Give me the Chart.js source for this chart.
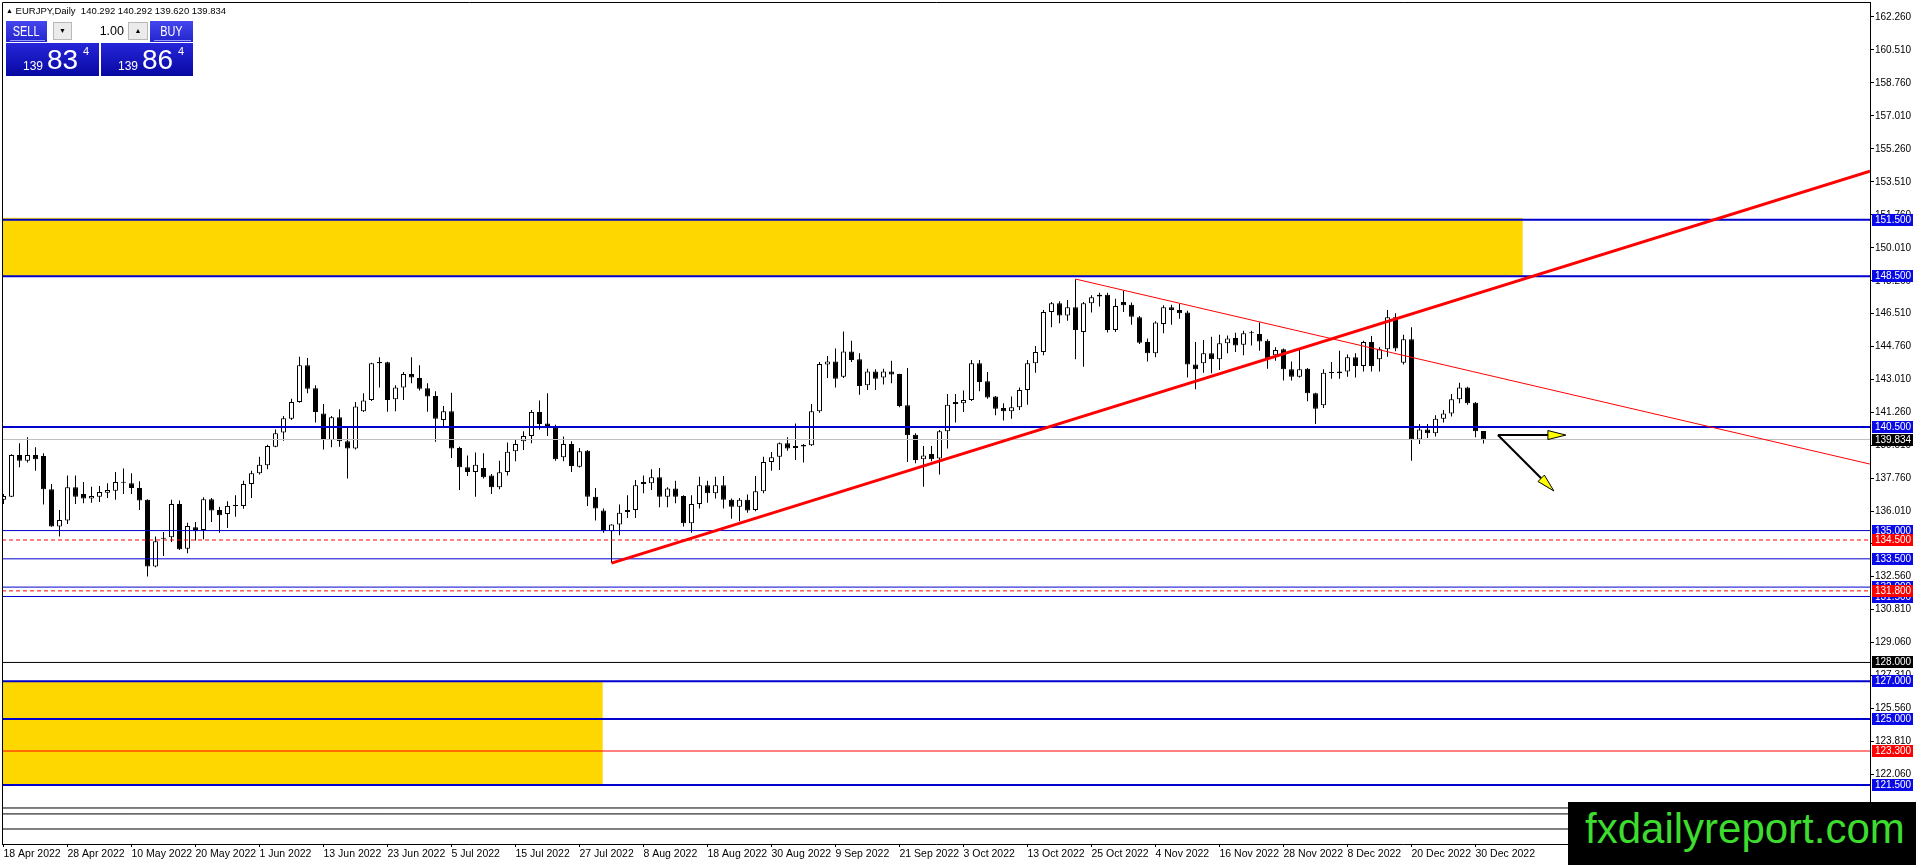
<!DOCTYPE html>
<html>
<head>
<meta charset="utf-8">
<title>EURJPY Daily</title>
<script src="https://cdn.jsdelivr.net/npm/chart.js"></script>
<style>
  html, body { margin: 0; padding: 0; background: #fff; overflow: hidden; }
  #wrap { position: relative; width: 1916px; height: 865px; font-family: 'Liberation Sans', Arial, sans-serif; }
  #chart { position: absolute; left: 0; top: 0; }
  #title { position: absolute; left: 6px; top: 5px; font-size: 9.5px; line-height: 12px; white-space: pre; color: #000; }
  #title b { font-size: 7px; font-weight: normal; vertical-align: 1px; }
  .lbl { position: absolute; top: 21px; height: 21px; color: #fff; font-size: 14px; line-height: 21px; text-align: center;
         background: linear-gradient(#4646ee, #2424cc); }
  .lbl span { display: inline-block; transform: scaleX(0.78); }
  .lbl i { position: absolute; left: 4px; right: 2px; bottom: 1px; height: 1px; background: #9a9aff; }
  #sell { left: 6px; width: 41px; }
  #buy { left: 150px; width: 43px; }
  #spin { position: absolute; left: 50px; top: 20px; width: 100px; height: 22px; background: #fff; }
  #dn, #up { position: absolute; top: 2px; height: 16px; background: #ebebeb; border: 1px solid #b8b8b8;
             font-size: 7px; line-height: 16px; text-align: center; color: #000; }
  #dn { left: 3px; width: 17px; }
  #up { left: 78px; width: 18px; }
  #lot { position: absolute; left: 22px; top: 2px; width: 52px; height: 18px; padding-right: 4px;
         font-size: 12.5px; line-height: 18px; text-align: right; color: #000; }
  .big { position: absolute; top: 43px; height: 33px; color: #fff; background: linear-gradient(#2626da, #0808a2); }
  #bigSell { left: 6px; width: 93px; }
  #bigBuy { left: 101px; width: 92px; }
  .big .s { position: absolute; left: 17px; top: 17px; font-size: 12px; line-height: 12px; }
  .big .b { position: absolute; left: 41px; top: 3px; font-size: 28px; line-height: 28px; }
  .big .p { position: absolute; left: 77px; top: 3px; font-size: 11px; line-height: 11px; }
  #wm { position: absolute; left: 1568px; top: 802px; width: 348px; height: 63px; background: #000; color: #3ddc2f;
        font-size: 42px; line-height: 42px; padding: 6px 0 0 17px; box-sizing: border-box; white-space: nowrap; }
</style>
</head>
<body>
<div id="wrap">
  <canvas id="chart" width="1916" height="865"></canvas>
  <div id="title"><b>▲</b> EURJPY,Daily  140.292 140.292 139.620 139.834</div>
  <div class="lbl" id="sell"><span>SELL</span><i></i></div>
  <div id="spin"><div id="dn">▼</div><div id="lot">1.00</div><div id="up">▲</div></div>
  <div class="lbl" id="buy"><span>BUY</span><i></i></div>
  <div class="big" id="bigSell"><span class="s">139</span><span class="b">83</span><span class="p">4</span></div>
  <div class="big" id="bigBuy"><span class="s">139</span><span class="b">86</span><span class="p">4</span></div>
  <div id="wm">fxdailyreport.com</div>
</div>
<script>
// daily bars, 18 Apr 2022 .. first bar of 2023
const opens = [
  136.63,136.80,139.01,138.71,139.01,138.96,137.19,135.21,135.53,137.30,
  136.94,136.70,136.80,137.01,137.12,137.58,137.51,137.26,136.63,133.09,
  134.57,134.64,136.41,134.04,135.17,135.03,136.66,136.09,135.88,136.31,
  136.31,137.47,138.04,138.47,139.45,140.20,140.94,141.83,143.77,142.55,
  141.22,139.81,141.01,139.74,139.35,141.33,141.93,143.95,143.93,141.97,
  142.60,143.31,143.10,142.55,142.14,140.87,141.33,139.38,138.36,138.11,
  138.32,137.93,137.30,138.11,139.21,139.74,140.02,141.30,140.69,140.48,
  138.89,139.60,138.39,139.24,136.80,136.06,134.96,135.32,135.99,136.09,
  137.47,137.51,137.83,136.80,137.23,136.84,135.39,136.41,137.40,136.98,
  137.40,136.63,136.27,136.63,136.09,137.09,138.64,138.92,139.63,139.38,
  139.46,139.53,141.33,143.81,143.98,143.17,144.51,144.09,142.71,143.45,
  143.13,143.45,143.31,141.65,140.09,138.78,139.07,138.82,140.27,141.72,
  141.76,141.93,143.88,142.92,142.11,141.51,141.33,141.54,142.46,143.88,
  144.48,146.60,147.06,146.42,146.85,145.54,147.06,147.42,147.52,145.65,
  147.13,146.99,146.32,145.01,144.41,145.97,146.85,146.71,146.57,143.81,
  143.88,144.41,144.09,144.94,145.22,144.87,145.49,145.43,145.08,144.30,
  144.62,143.56,143.17,143.59,142.29,141.65,143.38,143.35,143.45,144.20,
  143.74,145.01,144.09,144.62,146.32,143.91,145.15,139.84,140.37,140.16,
  140.94,141.22,141.97,142.60,141.79,140.292
];
const highs = [
  136.94,139.05,139.63,139.95,139.42,139.10,137.47,136.09,137.93,137.93,
  137.58,137.33,137.37,137.51,138.11,138.29,138.04,137.62,136.66,134.68,
  134.93,136.63,136.59,135.42,135.46,136.77,136.73,136.27,136.55,136.87,
  137.65,138.18,138.92,139.56,140.37,141.08,142.00,144.23,144.16,142.71,
  141.72,141.08,141.44,140.48,141.83,142.29,143.91,144.20,143.96,142.71,
  143.42,144.20,143.77,142.82,142.39,141.61,142.32,139.45,138.99,139.14,
  139.10,138.00,138.71,139.67,139.84,140.27,141.40,141.90,142.29,140.62,
  139.99,139.74,139.38,139.28,137.26,136.17,135.34,136.38,136.87,137.69,
  137.93,138.25,138.32,137.30,137.65,136.87,136.87,137.86,137.65,137.86,
  137.90,136.70,136.73,136.91,137.90,138.92,139.17,139.67,139.95,140.69,
  139.60,141.72,143.95,144.27,144.66,145.57,145.08,144.41,143.59,143.56,
  143.59,144.02,143.33,143.63,140.16,139.49,139.49,140.34,142.25,142.25,
  142.43,144.05,144.05,143.42,142.14,141.76,142.11,142.60,144.05,144.80,
  146.71,147.13,147.17,147.24,148.34,147.13,147.49,147.63,147.63,147.31,
  147.73,147.10,146.39,145.19,146.11,146.96,146.99,147.03,146.67,145.01,
  145.12,145.29,145.40,145.36,145.50,145.61,145.61,146.04,145.15,144.73,
  144.66,143.98,144.66,143.63,142.32,143.56,143.95,144.55,144.34,144.41,
  145.08,145.33,144.73,146.71,146.53,145.40,145.79,140.66,140.66,141.12,
  141.40,142.25,142.85,142.64,141.83,140.292
];
const lows = [
  136.41,136.78,138.36,138.61,138.18,136.38,135.20,134.68,135.35,136.41,
  136.45,136.48,136.52,136.73,136.63,136.94,136.94,136.09,132.56,133.05,
  133.65,134.40,133.97,133.79,134.47,134.54,135.46,134.89,135.14,135.74,
  136.16,136.73,137.98,138.25,139.42,139.77,140.87,141.78,142.29,140.73,
  139.31,139.42,139.45,137.76,139.30,141.30,141.88,142.60,141.31,141.33,
  141.93,142.82,142.43,141.31,139.72,140.52,138.85,137.16,137.90,136.80,
  137.76,136.94,137.20,137.93,138.68,139.28,139.63,140.37,140.02,138.71,
  138.68,138.11,138.35,136.31,135.53,134.89,133.29,134.75,135.67,135.67,
  136.98,137.16,136.24,136.24,136.45,135.21,134.89,136.17,136.48,136.70,
  136.17,135.63,135.49,135.95,136.02,136.98,138.18,138.22,139.24,138.75,
  138.61,139.49,141.26,143.10,142.60,143.10,143.95,142.21,142.46,142.46,
  142.75,142.82,141.54,138.64,138.57,137.33,138.68,137.97,139.35,140.73,
  141.30,141.88,142.39,142.00,141.12,140.84,140.94,141.40,141.68,143.38,
  144.30,145.79,146.00,146.14,144.09,143.70,146.57,146.89,145.51,145.54,
  146.60,145.93,144.90,143.98,144.20,145.47,145.93,146.25,143.13,142.50,
  143.38,143.35,143.52,144.41,144.48,144.30,144.83,144.55,143.59,144.02,
  142.96,142.96,143.13,141.86,140.66,141.51,143.06,143.06,143.17,143.13,
  143.45,143.45,143.45,144.23,144.52,143.81,138.71,139.60,139.92,139.99,
  140.73,141.05,141.76,141.68,139.95,139.620
];
const closes = [
  136.84,139.01,138.71,139.01,138.78,137.19,135.21,135.56,137.30,136.80,
  136.70,136.84,137.05,137.16,137.58,137.54,137.26,136.59,133.09,134.43,
  134.61,136.41,134.01,135.24,134.96,136.66,136.06,135.81,136.31,136.36,
  137.47,138.04,138.50,139.49,140.16,140.96,141.83,143.77,142.53,141.30,
  139.81,141.01,139.74,139.35,141.58,141.90,143.88,143.88,141.93,142.60,
  143.31,143.13,142.53,142.11,140.94,141.33,139.35,138.36,138.11,138.50,
  137.83,137.30,138.10,139.19,139.60,140.02,141.30,140.66,140.45,138.78,
  139.60,138.43,139.21,136.80,136.17,134.96,135.32,135.95,136.09,137.40,
  137.58,137.83,136.80,137.23,136.80,135.39,136.41,137.40,136.98,137.40,
  136.63,136.27,136.63,136.06,137.09,138.64,138.89,139.63,139.35,139.49,
  139.56,141.33,143.84,143.98,143.06,144.51,144.05,142.67,143.45,143.06,
  143.45,143.28,141.61,140.06,138.75,138.99,138.78,140.27,141.68,141.83,
  141.93,143.88,142.89,142.07,141.47,141.33,141.54,142.46,143.88,144.48,
  146.60,147.06,146.42,146.85,145.65,147.06,147.38,147.52,145.65,146.92,
  146.96,146.35,144.97,144.41,146.04,146.85,146.71,146.53,143.81,143.56,
  144.41,144.09,144.94,145.19,144.83,145.47,145.47,145.04,144.13,144.59,
  143.56,143.17,143.56,142.29,141.47,143.38,143.37,143.45,144.20,143.74,
  145.01,143.74,144.62,146.32,144.66,145.15,139.84,140.37,140.16,140.94,
  141.22,141.97,142.60,141.76,140.27,139.834
];

// date labels every 8 bars
const tickBars = [0,8,16,24,32,40,48,56,64,72,80,88,96,104,112,120,128,136,144,152,160,168,176,184];
const tickLabels = [
  "18 Apr 2022","28 Apr 2022","10 May 2022","20 May 2022","1 Jun 2022","13 Jun 2022",
  "23 Jun 2022","5 Jul 2022","15 Jul 2022","27 Jul 2022","8 Aug 2022","18 Aug 2022",
  "30 Aug 2022","9 Sep 2022","21 Sep 2022","3 Oct 2022","13 Oct 2022","25 Oct 2022",
  "4 Nov 2022","16 Nov 2022","28 Nov 2022","8 Dec 2022","20 Dec 2022","30 Dec 2022"
];
const priceTicks = [
  162.26,160.51,158.76,157.01,155.26,153.51,151.76,150.01,148.26,146.51,144.76,143.01,
  141.26,139.51,137.76,136.01,134.31,132.56,130.81,129.06,127.31,125.56,123.81,122.06
];

// horizontal levels
const levelPrices = [151.5, 148.5, 140.5, 135.0, 134.5, 133.5, 132.0, 131.8, 131.5, 128.0, 127.0, 125.0, 123.3, 121.5];
const levelKinds = ['blue2','blue2','blue2','blue1','redDash','blue1','blue1','redDash','blue1','black','blue2','blue2','red1','blue2'];
const bidPrice = 139.834;
const bottomLines = [120.275, 119.96, 119.16];

// drawn objects: [bar, price] pairs
const trendUp = [[76, 133.27], [233.31, 154.08]];
const trendDown = [[134, 148.35], [233.31, 138.53]];
const arrowFrom = [186.8, 140.07];
const arrowTo = [[195.3, 140.07], [193.8, 137.10]];
// [fromBar, toBar, lowPrice, highPrice]
const zones = [[-1, 189.9, 148.5, 151.6], [-1, 74.9, 121.5, 127.0]];

document.addEventListener("DOMContentLoaded", () => {
  const X_MIN = -0.1875, X_MAX = 233.3125;
  const Y_MIN = 118.364, Y_MAX = 163.056;
  const FONT = "'Liberation Sans', Arial, sans-serif";

  const styles = {
    blue2:   { color: '#0000cd', width: 2, dash: [],     box: '#0a0ae8' },
    blue1:   { color: '#0000cd', width: 1, dash: [],     box: '#0a0ae8' },
    redDash: { color: '#ff0000', width: 1, dash: [4, 3], box: '#ff0000' },
    red1:    { color: '#ff0000', width: 1, dash: [],     box: '#ff0000' },
    black:   { color: '#000000', width: 1, dash: [],     box: '#000000' }
  };

  const hLine = (price, color, width, dash, order) => ({
    type: 'line',
    data: [{ x: X_MIN, y: price }, { x: X_MAX, y: price }],
    borderColor: color, borderWidth: width, borderDash: dash,
    pointRadius: 0, fill: false, order: order
  });

  const segLine = (pts, color, width) => ({
    type: 'line',
    data: pts.map(p => ({ x: p[0], y: p[1] })),
    borderColor: color, borderWidth: width,
    pointRadius: 0, fill: false, order: 1
  });

  const datasets = [
    {
      label: 'wicks',
      data: highs.map((h, i) => ({ x: i, y: [lows[i], h] })),
      backgroundColor: '#000', barThickness: 1, order: 20
    },
    {
      label: 'bodies',
      data: opens.map((o, i) => ({ x: i, y: [o, closes[i]] })),
      backgroundColor: opens.map((o, i) => closes[i] >= o ? '#ffffff' : '#000000'),
      borderColor: '#000', borderWidth: 1, borderSkipped: false,
      barThickness: 5, minBarLength: 1, order: 19
    },
    hLine(bidPrice, '#c0c0c0', 1, [], 8)
  ];
  bottomLines.forEach(p => datasets.push(hLine(p, '#000', 1, [], 7)));
  levelPrices.forEach((p, k) => {
    const s = styles[levelKinds[k]];
    datasets.push(hLine(p, s.color, s.width, s.dash, 5));
  });
  datasets.push(segLine(trendUp, '#ff0000', 3));
  datasets.push(segLine(trendDown, '#ff0000', 1));

  const mt4Plugin = {
    id: 'mt4',
    beforeDatasetsDraw(chart) {
      const { ctx, chartArea: a, scales: { x, y } } = chart;
      ctx.save();
      ctx.beginPath();
      ctx.rect(a.left, a.top, a.right - a.left, a.bottom - a.top);
      ctx.clip();
      ctx.fillStyle = '#ffd700';
      zones.forEach(z => {
        const x0 = x.getPixelForValue(z[0]), x1 = x.getPixelForValue(z[1]);
        const y0 = y.getPixelForValue(z[3]), y1 = y.getPixelForValue(z[2]);
        ctx.fillRect(x0, y0, x1 - x0, y1 - y0);
      });
      ctx.restore();
    },
    afterDatasetsDraw(chart) {
      const { ctx, scales: { x, y } } = chart;
      const ox = x.getPixelForValue(arrowFrom[0]), oy = y.getPixelForValue(arrowFrom[1]);
      arrowTo.forEach(t => {
        const tx = x.getPixelForValue(t[0]), ty = y.getPixelForValue(t[1]);
        const ang = Math.atan2(ty - oy, tx - ox);
        const len = 18, half = 4.5;
        const bx = tx - len * Math.cos(ang), by = ty - len * Math.sin(ang);
        ctx.save();
        ctx.strokeStyle = '#000';
        ctx.lineWidth = 2;
        ctx.beginPath();
        ctx.moveTo(ox, oy);
        ctx.lineTo(bx, by);
        ctx.stroke();
        ctx.beginPath();
        ctx.moveTo(tx, ty);
        ctx.lineTo(bx - half * Math.sin(ang), by + half * Math.cos(ang));
        ctx.lineTo(bx + half * Math.sin(ang), by - half * Math.cos(ang));
        ctx.closePath();
        ctx.fillStyle = '#ffff00';
        ctx.fill();
        ctx.lineWidth = 1;
        ctx.stroke();
        ctx.restore();
      });
    },
    afterDraw(chart) {
      const { ctx, chartArea: a, scales: { y } } = chart;
      ctx.save();
      ctx.strokeStyle = '#000';
      ctx.lineWidth = 1;
      ctx.beginPath();
      ctx.moveTo(a.left + 0.5, a.bottom);
      ctx.lineTo(a.left + 0.5, a.top + 0.5);
      ctx.lineTo(a.right, a.top + 0.5);
      ctx.stroke();

      const box = (price, color) => {
        const py = Math.round(y.getPixelForValue(price));
        ctx.fillStyle = color;
        ctx.fillRect(y.left + 2, py - 6, 41, 12);
        ctx.fillStyle = '#fff';
        ctx.font = '10px ' + FONT;
        ctx.textAlign = 'left';
        ctx.textBaseline = 'middle';
        ctx.fillText(price.toFixed(3), y.left + 5, py + 0.5);
      };
      levelPrices.forEach((p, k) => { if (levelKinds[k].startsWith('blue')) box(p, styles[levelKinds[k]].box); });
      box(bidPrice, '#000');
      levelPrices.forEach((p, k) => { if (levelKinds[k] === 'black') box(p, '#000'); });
      levelPrices.forEach((p, k) => { if (levelKinds[k].startsWith('red')) box(p, '#ff0000'); });
      ctx.restore();
    }
  };

  new Chart(document.getElementById('chart'), {
    type: 'bar',
    data: { datasets: datasets },
    plugins: [mt4Plugin],
    options: {
      responsive: false,
      animation: false,
      devicePixelRatio: 1,
      layout: { padding: { left: 2, top: 2, right: 0, bottom: 0 } },
      datasets: { bar: { grouped: false, inflateAmount: 0 } },
      plugins: { legend: { display: false }, tooltip: { enabled: false } },
      scales: {
        x: {
          type: 'linear', min: X_MIN, max: X_MAX, offset: false,
          grid: { drawOnChartArea: false, offset: false, tickLength: 3, color: '#000' },
          border: { display: true, color: '#000' },
          ticks: {
            autoSkip: false, maxRotation: 0, align: 'start', padding: 1, color: '#000',
            font: { family: FONT, size: 10.5 },
            callback: (v, i) => tickLabels[i]
          },
          afterBuildTicks: s => { s.ticks = tickBars.map(v => ({ value: v })); },
          afterFit: s => { s.height = 21; s.paddingLeft = 0; s.paddingRight = 0; }
        },
        y: {
          position: 'right', min: Y_MIN, max: Y_MAX, beginAtZero: false,
          grid: { drawOnChartArea: false, tickLength: 4, color: '#000' },
          border: { display: true, color: '#000' },
          ticks: {
            autoSkip: false, padding: 1, color: '#000', crossAlign: 'near',
            font: { family: FONT, size: 10 },
            callback: v => v.toFixed(3)
          },
          afterBuildTicks: s => { s.ticks = priceTicks.map(v => ({ value: v })); },
          afterFit: s => { s.width = 46; s.paddingTop = 0; s.paddingBottom = 0; }
        }
      }
    }
  });
});
</script>
</body>
</html>
